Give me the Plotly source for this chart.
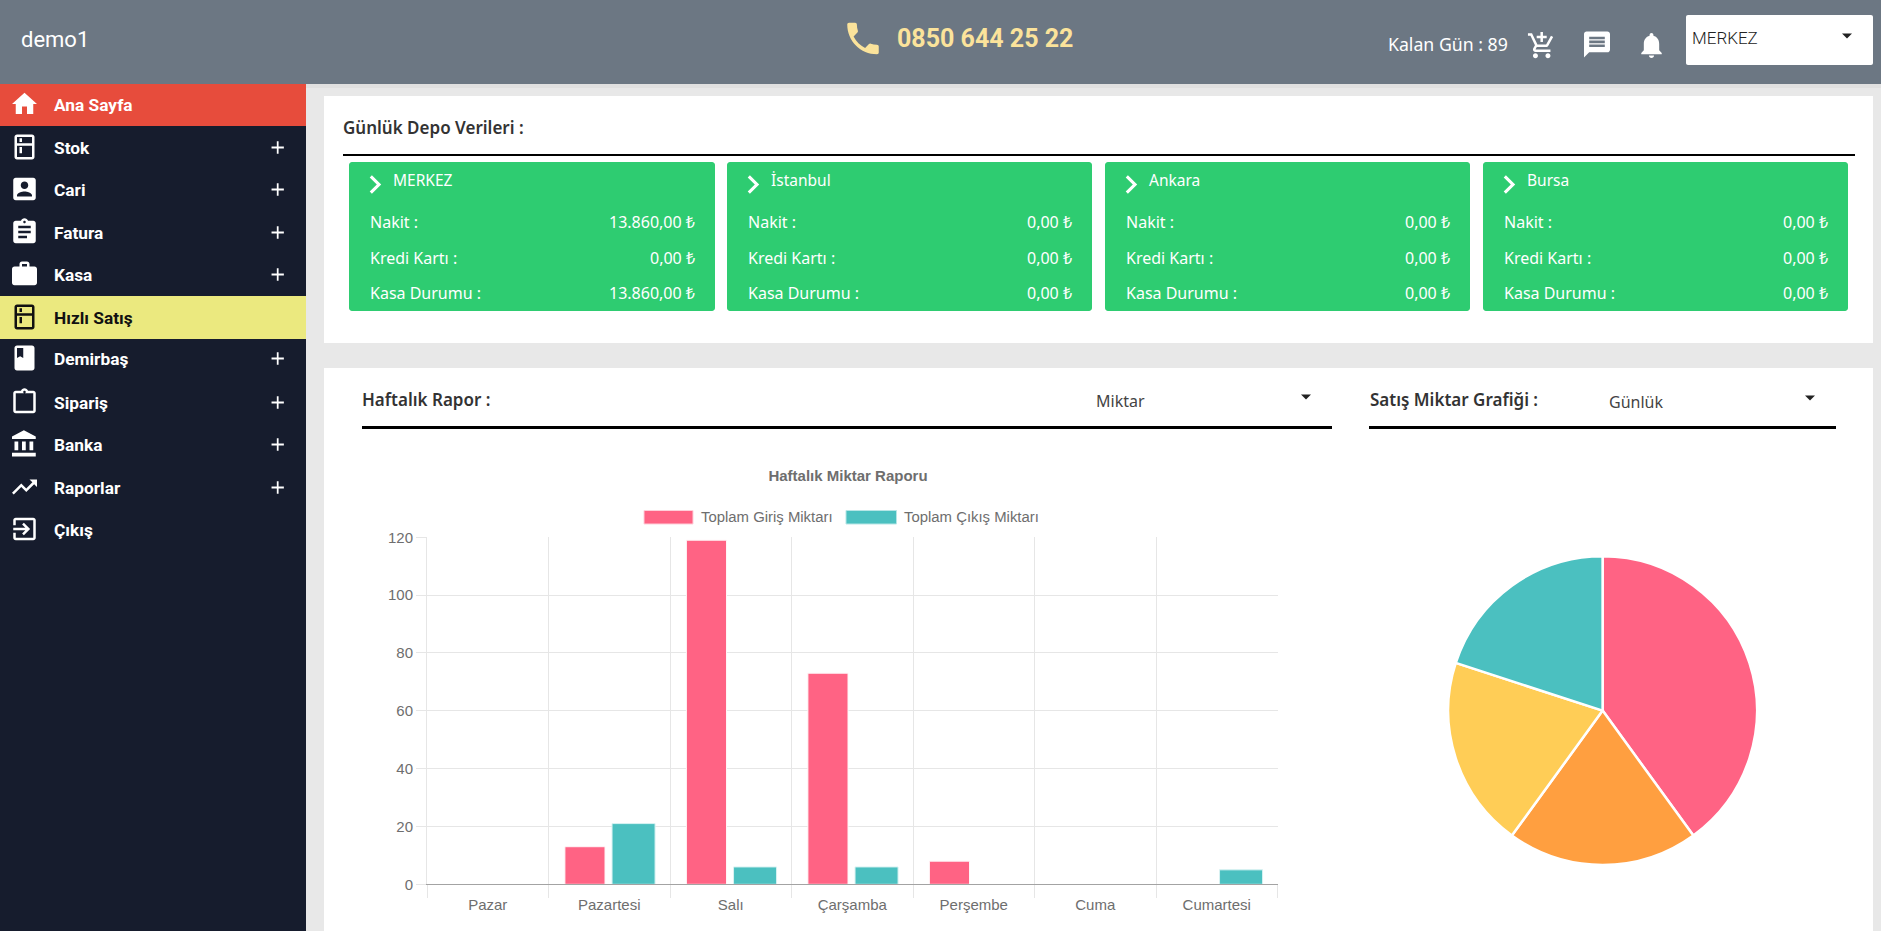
import re
import plotly.graph_objects as go

W, H = 1881, 931

days = ["Pazar", "Pazartesi", "Salı", "Çarşamba", "Perşembe", "Cuma", "Cumartesi"]
giris = [0, 13, 119, 73, 8, 0, 0]
cikis = [0, 21, 6, 6, 0, 0, 5]
y_ticks = [0, 20, 40, 60, 80, 100, 120]

pie_values = [2, 1, 1, 1]
pie_colors = ["#ff6384", "#ff9f40", "#ffcd56", "#4bc0c0"]

depots = ["MERKEZ", "İstanbul", "Ankara", "Bursa"]
nakit = ["13.860,00 ₺", "0,00 ₺", "0,00 ₺", "0,00 ₺"]
kredi = ["0,00 ₺", "0,00 ₺", "0,00 ₺", "0,00 ₺"]
kasa = ["13.860,00 ₺", "0,00 ₺", "0,00 ₺", "0,00 ₺"]

menu = ["Ana Sayfa", "Stok", "Cari", "Fatura", "Kasa", "Hızlı Satış",
        "Demirbaş", "Sipariş", "Banka", "Raporlar", "Çıkış"]
menu_plus = [False, True, True, True, True, False, True, True, True, True, False]

PINK, TEAL = "#ff6384", "#4bc0c0"
MULI = "'Noto Sans', 'DejaVu Sans'"
ROBOTO = "Roboto"
CHART = "'Liberation Sans'"
CHART_TEXT = "#6e6e6e"

# material icons, 24 grid
ICONS = {
    "home": "M10 20V14H14V20H19V12H22L12 3L2 12H5V20Z",
    "kitchen": "M18 2.01L6 2c-1.1 0-2 .89-2 2v16c0 1.1.9 2 2 2h12c1.1 0 2-.9 2-2V4c0-1.11-.9-1.99-2-1.99zM18 20H6v-9.02h12V20zm0-11H6V4h12v5zM8 5h2v3H8zm0 7h2v5H8z",
    "account": "M3 5v14c0 1.1.89 2 2 2h14c1.1 0 2-.9 2-2V5c0-1.1-.9-2-2-2H5c-1.11 0-2 .9-2 2zm12 4c0 1.66-1.34 3-3 3s-3-1.34-3-3 1.34-3 3-3 3 1.34 3 3zm-9 8c0-2 4-3.1 6-3.1s6 1.1 6 3.1v1H6v-1z",
    "assignment": "M19 3h-4.18C14.4 1.84 13.3 1 12 1c-1.3 0-2.4.84-2.82 2H5c-1.1 0-2 .9-2 2v14c0 1.1.9 2 2 2h14c1.1 0 2-.9 2-2V5c0-1.1-.9-2-2-2zm-7 0c.55 0 1 .45 1 1s-.45 1-1 1-1-.45-1-1 .45-1 1-1zm2 14H7v-2h7v2zm3-4H7v-2h10v2zm0-4H7V7h10v2z",
    "work": "M20 6h-4V4c0-1.11-.89-2-2-2h-4c-1.11 0-2 .89-2 2v2H4c-1.11 0-1.99.89-1.99 2L2 19c0 1.11.89 2 2 2h16c1.11 0 2-.89 2-2V8c0-1.11-.89-2-2-2zm-6 0h-4V4h4v2z",
    "book": "M18 2H6c-1.1 0-2 .9-2 2v16c0 1.1.9 2 2 2h12c1.1 0 2-.9 2-2V4c0-1.1-.9-2-2-2zM6 4h5v8l-2.5-1.5L6 12V4z",
    "clipboard": "M19 3h-4.18C14.4 1.84 13.3 1 12 1c-1.3 0-2.4.84-2.82 2H5c-1.1 0-2 .9-2 2v14c0 1.1.9 2 2 2h14c1.1 0 2-.9 2-2V5c0-1.1-.9-2-2-2zm-7 0c.55 0 1 .45 1 1s-.45 1-1 1-1-.45-1-1 .45-1 1-1zm7 16H5V5h14v14z",
    "bank": "M4 10v7h3v-7H4zm6 0v7h3v-7h-3zM2 22h19v-3H2v3zm14-12v7h3v-7h-3zm-4.5-9L2 6v2h19V6l-9.5-5z",
    "trending": "M16 6l2.29 2.29-4.88 4.88-4-4L2 16.59 3.41 18l6-6 4 4 6.3-6.29L22 12V6z",
    "exit": "M10.09 15.59L11.5 17l5-5-5-5-1.41 1.41L12.67 11H3v2h9.67l-2.58 2.59zM19 3H5c-1.11 0-2 .9-2 2v4h2V5h14v14H5v-4H3v4c0 1.1.89 2 2 2h14c1.1 0 2-.9 2-2V5c0-1.1-.9-2-2-2z",
    "phone": "M6.62 10.79c1.44 2.83 3.76 5.14 6.59 6.59l2.2-2.2c.27-.27.67-.36 1.02-.24 1.12.37 2.33.57 3.57.57.55 0 1 .45 1 1V20c0 .55-.45 1-1 1-9.39 0-17-7.61-17-17 0-.55.45-1 1-1h3.5c.55 0 1 .45 1 1 0 1.25.2 2.45.57 3.57.11.35.03.74-.25 1.02l-2.2 2.2z",
    "cart": "M11 9h2V6h3V4h-3V1h-2v3H8v2h3v3zm-4 9c-1.1 0-1.99.9-1.99 2S5.9 22 7 22s2-.9 2-2-.9-2-2-2zm10 0c-1.1 0-1.99.9-1.99 2s.89 2 1.99 2 2-.9 2-2-.9-2-2-2zm-9.83-3.25l.03-.12.9-1.63h7.45c.75 0 1.41-.41 1.75-1.03l3.86-7.01L19.42 4h-.01l-1.1 2-2.76 5H8.53l-.13-.27L6.16 6l-.95-2-.94-2H1v2h2l3.6 7.59-1.35 2.45c-.16.28-.25.61-.25.96 0 1.1.9 2 2 2h12v-2H7.42c-.13 0-.25-.11-.25-.25z",
    "chat": "M20 2H4c-1.1 0-1.99.9-1.99 2L2 22l4-4h14c1.1 0 2-.9 2-2V4c0-1.1-.9-2-2-2zm-2 12H6v-2h12v2zm0-3H6V9h12v2zm0-3H6V6h12v2z",
    "bell": "M12 22c1.1 0 2-.9 2-2h-4c0 1.1.89 2 2 2zm6-6v-5c0-3.07-1.64-5.64-4.5-6.32V4c0-.83-.67-1.5-1.5-1.5s-1.5.67-1.5 1.5v.68C7.63 5.36 6 7.92 6 11v5l-2 2v1h16v-1l-2-2z",
    "chevron": "M10 6L8.59 7.41 13.17 12l-4.58 4.59L10 18l6-6z",
    "add": "M19 13h-6v6h-2v-6H5v-2h6V5h2v6h6v2z",
}
menu_icons = ["home", "kitchen", "account", "assignment", "work", "kitchen",
              "book", "clipboard", "bank", "trending", "exit"]
menu_y = [105, 148, 190, 233, 275, 318, 359, 403, 445, 488, 530]

shapes = []
notes = []


def px(x):
    return x / W


def py(y):
    return 1 - y / H


def to_paper(d, scale, ox, oy):
    # svg path -> absolute M/L/C path in paper coords
    tok = re.findall(r"[A-Za-z]|[-+]?(?:\d*\.\d+|\d+\.?)", d)
    out = []
    i, cmd = 0, ""
    cx = cy = sx = sy = 0.0
    lx, ly = 0.0, 0.0

    def pt(a, b):
        return f"{px(ox + a * scale):.6f},{py(oy + b * scale):.6f}"

    while i < len(tok):
        if tok[i].isalpha():
            cmd = tok[i]
            i += 1
            if cmd in "Zz":
                out.append("Z")
                cx, cy = sx, sy
                continue
        rel = cmd.islower()
        c = cmd.upper()
        bx, by = (cx, cy) if rel else (0.0, 0.0)
        if c in "ML":
            a, b = float(tok[i]) + bx, float(tok[i + 1]) + by
            i += 2
            out.append(("M" if c == "M" else "L") + pt(a, b))
            cx, cy = a, b
            lx, ly = a, b
            if c == "M":
                sx, sy = a, b
                cmd = "l" if rel else "L"
        elif c == "H":
            cx = float(tok[i]) + bx
            i += 1
            out.append("L" + pt(cx, cy))
            lx, ly = cx, cy
        elif c == "V":
            cy = float(tok[i]) + by
            i += 1
            out.append("L" + pt(cx, cy))
            lx, ly = cx, cy
        elif c in "CS":
            if c == "C":
                x1, y1 = float(tok[i]) + bx, float(tok[i + 1]) + by
                i += 2
            else:
                x1, y1 = 2 * cx - lx, 2 * cy - ly
            x2, y2 = float(tok[i]) + bx, float(tok[i + 1]) + by
            x3, y3 = float(tok[i + 2]) + bx, float(tok[i + 3]) + by
            i += 4
            out.append("C" + pt(x1, y1) + " " + pt(x2, y2) + " " + pt(x3, y3))
            lx, ly = x2, y2
            cx, cy = x3, y3
    return " ".join(out)


def icon(name, cx, cy, scale, color="#ffffff"):
    shapes.append(dict(type="path", xref="paper", yref="paper", layer="below",
                       path=to_paper(ICONS[name], scale, cx - 12 * scale, cy - 12 * scale),
                       fillcolor=color, line=dict(width=0)))


def rect(x0, y0, x1, y1, color, border=None):
    shapes.append(dict(type="rect", xref="paper", yref="paper", layer="below",
                       x0=px(x0), x1=px(x1), y0=py(y0), y1=py(y1), fillcolor=color,
                       line=dict(width=1 if border else 0, color=border or color)))


def rounded(x0, y0, x1, y1, r, color):
    k = r * 0.45
    d = (f"M{x0 + r} {y0}L{x1 - r} {y0}C{x1 - k} {y0} {x1} {y0 + k} {x1} {y0 + r}"
         f"L{x1} {y1 - r}C{x1} {y1 - k} {x1 - k} {y1} {x1 - r} {y1}"
         f"L{x0 + r} {y1}C{x0 + k} {y1} {x0} {y1 - k} {x0} {y1 - r}"
         f"L{x0} {y0 + r}C{x0} {y0 + k} {x0 + k} {y0} {x0 + r} {y0}Z")
    shapes.append(dict(type="path", xref="paper", yref="paper", layer="below",
                       path=to_paper(d, 1, 0, 0), fillcolor=color, line=dict(width=0)))


def caret(cx, cy, color="#222222"):
    d = f"M{cx - 5} {cy - 2.5}L{cx + 5} {cy - 2.5}L{cx} {cy + 2.5}Z"
    shapes.append(dict(type="path", xref="paper", yref="paper", layer="below",
                       path=to_paper(d, 1, 0, 0), fillcolor=color, line=dict(width=0)))


def text(s, x, y, size, color="#ffffff", family=MULI, weight=400, anchor="left"):
    # annotations carry a small inner padding
    x = x - 1.5 if anchor == "left" else x + 1.5
    notes.append(dict(text=s, x=px(x), y=py(y), xref="paper", yref="paper", showarrow=False,
                      xanchor=anchor, yanchor="middle", borderpad=0,
                      font=dict(size=size, color=color, family=family, weight=weight)))


# page blocks
rect(0, 0, W, H, "#e8e8e8")
rect(306, 84, W, 88, "#e0e0e0")
rect(0, 0, W, 84, "#6c7783")
rect(0, 84, 306, H, "#161c2d")
rect(0, 84, 306, 126, "#e74c3c")
rect(0, 296, 306, 339, "#ebe97f")
rect(324, 96, 1873, 343, "#ffffff")
rect(324, 368, 1873, H, "#ffffff")

# header
text("demo1", 21, 39, 22, family=ROBOTO, weight=400)
icon("phone", 863, 38.5, 1.75, "#fbe39b")
text("0850 644 25 22", 897, 38, 25, "#fbe39b", ROBOTO, 700)
text("Kalan Gün : 89", 1388, 44, 17.7)
icon("cart", 1541.7, 45.7, 1.25)
icon("chat", 1597, 44.5, 1.3)
icon("bell", 1651.5, 45.2, 1.28)
rounded(1686, 15, 1873, 65, 2, "#ffffff")
text("MERKEZ", 1692.5, 38.5, 17, "#222222", ROBOTO, 300)
caret(1847, 36)

# sidebar
for i, label in enumerate(menu):
    dark = label == "Hızlı Satış"
    col = "#111111" if dark else "#ffffff"
    icon(menu_icons[i], 24.5, menu_y[i] - 1, 1.25, col)
    text(label, 54.5, menu_y[i], 17.3, col, ROBOTO, 700)
    if menu_plus[i]:
        icon("add", 277.7, menu_y[i] - 0.5, 0.88)

# depot cards
text("Günlük Depo Verileri :", 343, 127.5, 17, "#333333", MULI, 600)
rect(343, 154, 1855, 156, "#000000")
card_left = [349, 727, 1105, 1483]
card_right = [715, 1092, 1470, 1848]
for i, name in enumerate(depots):
    x0, x1 = card_left[i], card_right[i]
    rounded(x0, 162, x1, 311, 3, "#2ecc71")
    icon("chevron", x0 + 26, 184.5, 1.55)
    text(name, x0 + 44, 180, 15.5)
    rows = [("Nakit :", nakit[i], 222), ("Kredi Kartı :", kredi[i], 258), ("Kasa Durumu :", kasa[i], 293)]
    for lab, val, yy in rows:
        text(lab, x0 + 21, yy, 16)
        text(val, x1 - 21, yy, 16, anchor="right")

# weekly section head
text("Haftalık Rapor :", 362, 399.5, 17, "#333333", MULI, 600)
text("Miktar", 1096, 401, 16, "#444444")
caret(1306, 397)
rect(362, 426, 1332, 429, "#000000")
text("Satış Miktar Grafiği :", 1370, 399, 17, "#333333", MULI, 600)
text("Günlük", 1609, 401.5, 16, "#444444")
caret(1810, 398)
rect(1369, 426, 1836, 429, "#000000")

# chart legend
rect(644, 510.5, 693, 524, PINK, "#ffd0da")
text("Toplam Giriş Miktarı", 701, 516.7, 14.9, CHART_TEXT, CHART)
rect(846, 510.5, 896.5, 524, TEAL, "#b7e6e6")
text("Toplam Çıkış Miktarı", 904, 516.7, 14.9, CHART_TEXT, CHART)

fig = go.Figure()
fig.add_trace(go.Bar(x=days, y=giris, name="Toplam Giriş Miktarı", width=0.33,
                     marker=dict(color=PINK, line=dict(color="#fff5f7", width=[1 if v else 0 for v in giris])),
                     xaxis="x", yaxis="y"))
fig.add_trace(go.Bar(x=days, y=cikis, name="Toplam Çıkış Miktarı", width=0.354,
                     marker=dict(color=TEAL, line=dict(color="#d8f2f2", width=[1 if v else 0 for v in cikis])),
                     xaxis="x", yaxis="y"))
fig.add_trace(go.Pie(values=pie_values, sort=False, direction="clockwise", rotation=0,
                     marker=dict(colors=pie_colors, line=dict(color="#ffffff", width=2.5)),
                     textinfo="none", hoverinfo="percent",
                     domain=dict(x=[px(1448.2), px(1757)], y=[py(865), py(556.2)])))

grid = "#e6e6e6"
fig.update_layout(
    width=W, height=H, autosize=False,
    margin=dict(l=0, r=0, t=0, b=0, autoexpand=False),
    paper_bgcolor="rgba(0,0,0,0)", plot_bgcolor="rgba(0,0,0,0)",
    showlegend=False, barmode="group", bargap=0.2, bargroupgap=0.1,
    title=dict(text="Haftalık Miktar Raporu", x=px(848), y=py(476), xanchor="center", yanchor="middle",
               font=dict(family=CHART, size=15, color=CHART_TEXT, weight=700)),
    xaxis=dict(domain=[px(427), px(1277.5)], range=[-0.5, 6.5], type="category", categoryorder="array",
               categoryarray=days, tickson="boundaries", ticks="outside", ticklen=13, tickcolor=grid,
               ticklabelstandoff=7, showgrid=True, gridcolor=grid, showline=True, linecolor="#a3a3a3", linewidth=1,
               tickfont=dict(family=CHART, size=15, color=CHART_TEXT), zeroline=False),
    yaxis=dict(domain=[py(884.3), py(537.3)], range=[0, 120], tickvals=y_ticks, ticks="outside",
               ticklen=10, tickcolor=grid, showgrid=True, gridcolor=grid, showline=True, linecolor=grid,
               tickfont=dict(family=CHART, size=15, color=CHART_TEXT), zeroline=False),
    shapes=shapes, annotations=notes,
)

fig.write_html("out.html", config=dict(displayModeBar=False),
               post_script="document.body.style.margin='0';document.body.style.overflow='hidden';")
